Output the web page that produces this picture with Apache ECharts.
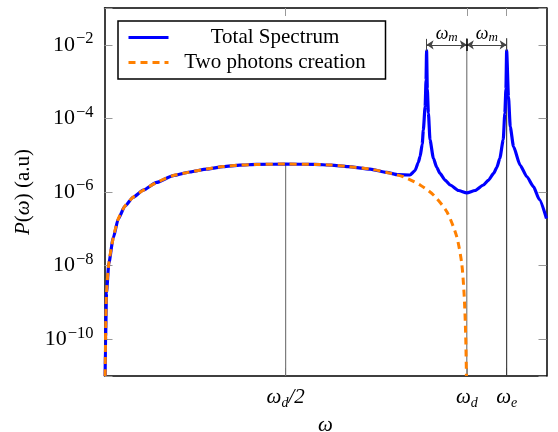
<!DOCTYPE html>
<html><head><meta charset="utf-8">
<script src="https://cdn.jsdelivr.net/npm/echarts@6/dist/echarts.min.js"></script>
<style>html,body{margin:0;padding:0;background:#fff}#c{width:558px;height:432px}</style>
</head><body><div id="c"></div>
<script>
// ---- data (x in units of omega_d) ----
const omegaTwo = [0.0017,0.003,0.0055,0.0119,0.024,0.038,0.056,0.079,0.107,0.144,0.19,0.236,0.282,0.328,0.374,0.42,0.5,0.58,0.626,0.672,0.733,0.779,0.825,0.871,0.908,0.945,0.972,0.986,0.993,0.997,0.999];
const twoPhotons = [1e-11,1.2e-10,1.8e-9,1.15e-8,5.6e-8,1.86e-7,4.1e-7,7.2e-7,1.12e-6,1.82e-6,2.8e-6,3.5e-6,4.2e-6,4.9e-6,5.4e-6,5.6e-6,5.75e-6,5.6e-6,5.4e-6,4.9e-6,4.2e-6,3.4e-6,2.6e-6,1.55e-6,8.3e-7,2.9e-7,6.2e-8,1.15e-8,1.4e-9,1.2e-10,1e-11];

const omegaTotal = [0.0017,0.003,0.0055,0.0119,0.024,0.038,0.056,0.079,0.107,0.144,0.19,0.236,0.282,0.328,0.374,0.42,0.5,0.58,0.626,0.672,0.733,0.779,0.81,0.843,0.857,0.866,0.871,0.877,0.880,0.885,0.8875,0.889,0.891,0.894,0.8985,0.9077,0.917,0.926,0.94,0.954,0.977,1.0,1.023,1.046,1.06,1.074,1.083,1.0913,1.1005,1.105,1.108,1.11,1.115,1.12,1.129,1.147,1.166,1.184,1.2,1.22];
const totalSpectrum = [1e-11,1.2e-10,1.8e-9,1.15e-8,5.6e-8,1.86e-7,4.1e-7,7.2e-7,1.12e-6,1.82e-6,2.8e-6,3.5e-6,4.2e-6,4.9e-6,5.4e-6,5.6e-6,5.75e-6,5.6e-6,5.4e-6,4.9e-6,4.2e-6,3.4e-6,2.95e-6,2.9e-6,3.8e-6,6.3e-6,9.1e-6,2e-5,4.8e-5,2.1e-4,1.1e-3,7e-3,6.3e-4,1.4e-4,2.6e-5,8.3e-6,4.7e-6,3.2e-6,2.1e-6,1.55e-6,1.1e-6,9.5e-7,1.1e-6,1.55e-6,2.1e-6,3.2e-6,4.7e-6,8.3e-6,2.6e-5,1.4e-4,6.3e-4,7e-3,3.9e-4,5.9e-5,1.7e-5,5.4e-6,2.6e-6,1.4e-6,6.3e-7,1.9e-7];

const seriesNames = ['Total Spectrum','Two photons creation'];
const xTickValues = [0.5, 1, 1.11];
const xTickLabels = ['{w|ω}{d|d}{w|/2}', '{w|ω}{d|d}', '{w|ω}{d|e}'];

// annotation constants (omega_d, omega_e, omega_d - omega_m)
const omegaD = 1, omegaE = 1.11, omegaSide = 0.889;
const X_MIN = 0, X_MAX = 1.22, Y_MIN = 1e-11, Y_MAX = 1e-1;
const bracketY = 1e-2, bracketTop = 1.5e-2, barTop = 1.45e-2, barBottom = 6.8e-3;

const FONT = '"Liberation Serif","DejaVu Serif",serif';
const zip = (xs, ys) => xs.map((x, i) => [x, ys[i]]);
const halfVal = twoPhotons[omegaTwo.indexOf(0.5)];

const tickStyle = {color: '#999', width: 1};
const frameLine = {show: true, onZero: false, lineStyle: {color: '#000', width: 1.5}};

const chart = echarts.init(document.getElementById('c'), null, {renderer: 'canvas'});
const guide = (name, pts, color) => ({
  name, type: 'line', data: pts, symbol: 'none', silent: true, animation: false,
  lineStyle: {color, width: 1.1}, z: 1
});

chart.setOption({
  animation: false,
  backgroundColor: '#fff',
  grid: {left: 104.5, right: 11.5, top: 8, bottom: 56, containLabel: false, outerBoundsMode: 'none'},
  legend: {
    data: seriesNames, orient: 'vertical', left: 118, top: 21,
    itemWidth: 40, itemHeight: 14, itemGap: 4,
    padding: [6, 9, 6, 9], borderColor: '#000', borderWidth: 1.5, backgroundColor: '#fff',
    itemStyle: {opacity: 0, borderWidth: 0},
    lineStyle: {width: 3},
    formatter: n => '{t|' + n + '}',
    textStyle: {fontFamily: FONT, fontSize: 21, color: '#000',
      rich: {t: {fontFamily: FONT, fontSize: 21, color: '#000', width: 203, align: 'center', lineHeight: 22}}}
  },
  xAxis: [{
    type: 'value', min: X_MIN, max: X_MAX, position: 'bottom',
    axisLine: frameLine, splitLine: {show: false},
    axisTick: {show: true, inside: true, length: 8, customValues: xTickValues, lineStyle: tickStyle},
    axisLabel: {
      customValues: xTickValues, margin: 8,
      formatter: v => xTickLabels[xTickValues.indexOf(v)] || '',
      rich: {
        w: {fontFamily: FONT, fontSize: 21, fontStyle: 'italic', color: '#000', lineHeight: 26},
        d: {fontFamily: FONT, fontSize: 14, fontStyle: 'italic', color: '#000', lineHeight: 14, verticalAlign: 'bottom'}
      }
    },
    name: 'ω', nameLocation: 'middle', nameGap: 36,
    nameTextStyle: {fontFamily: FONT, fontSize: 21, fontStyle: 'italic', color: '#000'}
  }, {
    type: 'value', min: X_MIN, max: X_MAX, position: 'top',
    axisLine: frameLine, splitLine: {show: false},
    axisTick: {show: true, inside: true, length: 8, customValues: xTickValues, lineStyle: tickStyle},
    axisLabel: {show: false}
  }],
  yAxis: [{
    type: 'log', logBase: 100, min: Y_MIN, max: Y_MAX, position: 'left',
    axisLine: frameLine, splitLine: {show: false}, minorTick: {show: false},
    axisTick: {show: true, inside: true, length: 8, lineStyle: tickStyle},
    axisLabel: {
      margin: 11,
      formatter: v => {
        const e = Math.round(Math.log10(v));
        if (e % 2 !== 0 || e <= -11 || e >= -1) return '';
        return '{b|10}{s|−' + Math.abs(e) + '}';
      },
      rich: {
        b: {fontFamily: FONT, fontSize: 22, color: '#000', lineHeight: 29},
        s: {fontFamily: FONT, fontSize: 16.5, color: '#000', lineHeight: 16, verticalAlign: 'top', padding: [0, 0, 0, 1]}
      }
    },
    name: '{i|P}({i|ω}) (a.u)', nameLocation: 'middle', nameGap: 62, nameRotate: 90,
    nameTextStyle: {fontFamily: FONT, fontSize: 21, color: '#000',
      rich: {i: {fontFamily: FONT, fontSize: 21, fontStyle: 'italic', color: '#000'}}}
  }, {
    type: 'log', logBase: 100, min: Y_MIN, max: Y_MAX, position: 'right',
    axisLine: frameLine, splitLine: {show: false}, minorTick: {show: false},
    axisTick: {show: true, inside: true, length: 8, lineStyle: tickStyle},
    axisLabel: {show: false}
  }],
  series: [
    guide('g1', [[0.5, Y_MIN], [0.5, halfVal]], '#707070'),
    guide('g2', [[omegaD, Y_MIN], [omegaD, bracketTop]], '#707070'),
    Object.assign(guide('g3', [[omegaE, Y_MIN], [omegaE, bracketTop]], '#333'), {
      markLine: {
        silent: true, animation: false, symbol: 'none', symbolSize: 7,
        lineStyle: {color: '#444', width: 1, type: 'solid'},
        label: {show: false, fontFamily: FONT, color: '#000',
          rich: {
            w: {fontFamily: FONT, fontSize: 18, fontStyle: 'italic', color: '#000', lineHeight: 19},
            m: {fontFamily: FONT, fontSize: 13, fontStyle: 'italic', color: '#000', lineHeight: 12, verticalAlign: 'bottom'}
          }},
        data: [
          [{coord: [omegaSide, bracketY], symbol: 'arrow', label: {show: true, position: 'middle', distance: 1, formatter: '{w|ω}{m|m}'}},
           {coord: [omegaD, bracketY], symbol: 'arrow'}],
          [{coord: [omegaD, bracketY], symbol: 'arrow', label: {show: true, position: 'middle', distance: 1, formatter: '{w|ω}{m|m}'}},
           {coord: [omegaE, bracketY], symbol: 'arrow'}],
          [{coord: [omegaSide, barTop], symbol: 'none'}, {coord: [omegaSide, barBottom], symbol: 'none'}],
          [{coord: [omegaD, barTop], symbol: 'none', lineStyle: {color: '#000', width: 1.5}}, {coord: [omegaD, barBottom], symbol: 'none'}],
          [{coord: [omegaE, barTop], symbol: 'none'}, {coord: [omegaE, barBottom], symbol: 'none'}]
        ]
      }
    }),
    {
      name: seriesNames[0], type: 'line', data: zip(omegaTotal, totalSpectrum),
      symbol: 'none', showSymbol: false, z: 3, color: '#0000ff', smooth: 0.2, smoothMonotone: 'x',
      lineStyle: {color: '#0000ff', width: 3.2, join: 'round', cap: 'butt'}
    },
    {
      name: seriesNames[1], type: 'line', data: zip(omegaTwo, twoPhotons),
      symbol: 'none', showSymbol: false, z: 4, color: '#ff8000', smooth: 0.25,
      lineStyle: {color: '#ff8000', width: 3, type: [7, 5]}
    }
  ]
});
</script>
</body></html>
